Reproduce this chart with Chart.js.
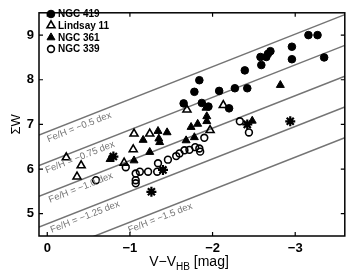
<!DOCTYPE html>
<html>
<head>
<meta charset="utf-8">
<script src="https://cdn.jsdelivr.net/npm/chart.js@4.4.0/dist/chart.umd.min.js"></script>
<style>
  html, body { margin: 0; padding: 0; background: #fff; }
  #wrap { width: 352px; height: 278px; }
</style>
</head>
<body>
<div id="wrap"><canvas id="chart"></canvas></div>
<script>
// axis limits and ticks
const xMin = -3.6, xMax = 0.1;
const yMin = 4.5, yMax = 9.5;
const xTicks = [0, -1, -2, -3];
const yTicks = [5, 6, 7, 8, 9];

// NGC 419 (filled circles)
const ngc419X = [-3.16, -3.27, -2.96, -2.70, -2.67, -2.65, -2.58, -2.96, -3.35, -2.59, -2.39, -1.84, -1.78, -2.08, -2.27, -2.42, -1.65, -1.87, -1.95, -2.20];
const ngc419Y = [9.00, 9.00, 8.74, 8.64, 8.58, 8.51, 8.51, 8.46, 8.50, 8.33, 8.21, 7.99, 7.73, 7.75, 7.81, 7.81, 7.47, 7.48, 7.40, 7.36];

// Lindsay 11 (open triangles)
const lin11X = [-1.69, -2.13, -1.97, -1.05, -1.24, -1.04, -0.93, -0.23, -0.41, -0.36];
const lin11Y = [7.33, 7.43, 6.87, 6.79, 6.79, 6.44, 6.14, 6.26, 6.08, 5.83];

// NGC 361 (filled triangles)
const ngc361X = [-2.82, -1.16, -1.34, -1.45, -1.35, -1.36, -1.24, -0.76, -1.05, -1.92, -1.93, -1.93, -1.82, -1.74, -1.68, -1.78, -2.48];
const ngc361Y = [7.88, 6.65, 6.85, 6.82, 6.68, 6.60, 6.38, 6.22, 6.19, 7.37, 7.18, 7.07, 7.01, 6.94, 6.64, 6.71, 7.08];

// NGC 339 (open circles)
const ngc339X = [-0.59, -0.95, -1.07, -1.12, -1.07, -1.07, -1.22, -1.33, -1.34, -1.46, -1.56, -1.60, -1.66, -1.72, -1.79, -1.84, -1.85, -1.90, -2.33, -2.44];
const ngc339Y = [5.75, 6.04, 5.90, 5.94, 5.75, 5.68, 5.94, 5.94, 6.13, 6.21, 6.29, 6.35, 6.42, 6.43, 6.49, 6.46, 6.39, 6.70, 7.07, 6.82];

// crossed-out stars
const crossX = [-0.80, -1.40, -1.26, -2.42, -2.94];
const crossY = [6.28, 5.98, 5.49, 7.00, 7.07];

// iso-metallicity lines: Sigma W at the left (V-V_HB = 0.1) and right (-3.6) edges
const feHLabels = ['Fe/H = \u22120.5 dex', 'Fe/H = \u22120.75 dex', 'Fe/H = \u22121.0 dex', 'Fe/H = \u22121.25 dex', 'Fe/H = \u22121.5 dex'];
const feHLeftW = [6.76, 6.08, 5.39, 4.70, 4.01];
const feHRightW = [9.46, 8.77, 8.08, 7.39, 6.70];
const labelStartX = [0.03, 0.05, 0.01, -0.01, -0.95];

const legendNames = ['NGC 419', 'Lindsay 11', 'NGC 361', 'NGC 339'];

const FONT = '"Liberation Sans", Arial, Helvetica, sans-serif';
const GRAY = '#747474';

function pts(xs, ys) {
    return xs.map((v, i) => ({ x: v, y: ys[i] }));
}

const markerStyles = [
    { pointStyle: 'circle', radius: 3.8, fill: '#000', borderWidth: 1 },
    { pointStyle: 'triangle', radius: 4.6, fill: 'rgba(0,0,0,0)', borderWidth: 1.6 },
    { pointStyle: 'triangle', radius: 4.6, fill: '#000', borderWidth: 1 },
    { pointStyle: 'circle', radius: 3.4, fill: 'rgba(0,0,0,0)', borderWidth: 1.6 }
];

const seriesX = [ngc419X, lin11X, ngc361X, ngc339X];
const seriesY = [ngc419Y, lin11Y, ngc361Y, ngc339Y];

const datasets = [];
legendNames.forEach((name, i) => {
    const m = markerStyles[i];
    datasets.push({
        type: 'scatter',
        label: name,
        data: pts(seriesX[i], seriesY[i]),
        pointStyle: m.pointStyle,
        pointRadius: m.radius,
        pointBackgroundColor: m.fill,
        pointBorderColor: '#000',
        pointBorderWidth: m.borderWidth,
        order: 1
    });
});
datasets.push({
    type: 'scatter',
    label: 'crossed',
    data: pts(crossX, crossY),
    pointStyle: 'star',
    pointRadius: 5,
    pointBorderColor: '#000',
    pointBorderWidth: 2.2,
    order: 0
});
feHLabels.forEach((name, i) => {
    datasets.push({
        type: 'line',
        label: name,
        data: [{ x: xMax, y: feHLeftW[i] }, { x: xMin, y: feHRightW[i] }],
        borderColor: GRAY,
        borderWidth: 1.5,
        pointRadius: 0,
        fill: false,
        order: 5
    });
});

const decorations = {
    id: 'decorations',
    afterDatasetsDraw(chart) {
        const { ctx, chartArea: a, scales: { x, y } } = chart;
        ctx.save();

        // Fe/H labels under each line
        ctx.fillStyle = GRAY;
        ctx.font = '9.5px ' + FONT;
        feHLabels.forEach((txt, i) => {
            const x0 = x.getPixelForValue(xMax), y0 = y.getPixelForValue(feHLeftW[i]);
            const x1 = x.getPixelForValue(xMin), y1 = y.getPixelForValue(feHRightW[i]);
            const ang = Math.atan2(y1 - y0, x1 - x0);
            const px = x.getPixelForValue(labelStartX[i]);
            const py = y0 + (px - x0) * (y1 - y0) / (x1 - x0);
            ctx.save();
            ctx.beginPath();
            ctx.rect(a.left, a.top, a.right - a.left, a.bottom - a.top);
            ctx.clip();
            ctx.translate(px, py);
            ctx.rotate(ang);
            ctx.textAlign = 'left';
            ctx.textBaseline = 'alphabetic';
            ctx.fillText(txt, 0, 10);
            ctx.restore();
        });

        // frame and inward ticks on all four sides
        ctx.strokeStyle = '#000';
        ctx.lineWidth = 1.5;
        ctx.strokeRect(a.left, a.top, a.right - a.left, a.bottom - a.top);
        ctx.lineWidth = 1.2;
        ctx.beginPath();
        xTicks.forEach(v => {
            const px = x.getPixelForValue(v);
            ctx.moveTo(px, a.bottom); ctx.lineTo(px, a.bottom - 4);
            ctx.moveTo(px, a.top); ctx.lineTo(px, a.top + 4);
        });
        yTicks.forEach(v => {
            const py = y.getPixelForValue(v);
            ctx.moveTo(a.left, py); ctx.lineTo(a.left + 4, py);
            ctx.moveTo(a.right, py); ctx.lineTo(a.right - 4, py);
        });
        ctx.stroke();

        // legend
        ctx.font = 'bold 10px ' + FONT;
        ctx.textAlign = 'left';
        ctx.textBaseline = 'middle';
        const rows = [14, 25.5, 37.5, 49];
        legendNames.forEach((name, i) => {
            const m = markerStyles[i];
            ctx.fillStyle = m.fill;
            ctx.strokeStyle = '#000';
            ctx.lineWidth = m.borderWidth;
            Chart.helpers.drawPoint(ctx, { pointStyle: m.pointStyle, radius: m.radius, borderWidth: m.borderWidth, rotation: 0 }, a.left + 12, rows[i]);
            ctx.fillStyle = '#000';
            ctx.fillText(name, a.left + 19, rows[i] + 0.5);
        });

        // axis titles
        ctx.fillStyle = '#000';
        ctx.save();
        ctx.translate(16, (a.top + a.bottom) / 2);
        ctx.rotate(-Math.PI / 2);
        ctx.textAlign = 'center';
        ctx.textBaseline = 'middle';
        ctx.font = '13px ' + FONT;
        ctx.fillText('\u03A3W', 0, 0);
        ctx.restore();

        const big = '14px ' + FONT, small = '10px ' + FONT;
        const t1 = 'V\u2212V', t2 = 'HB', t3 = ' [mag]';
        ctx.font = big; const w1 = ctx.measureText(t1).width, w3 = ctx.measureText(t3).width;
        ctx.font = small; const w2 = ctx.measureText(t2).width;
        let tx = 189 - (w1 + w2 + w3) / 2;
        const base = 266;
        ctx.textAlign = 'left';
        ctx.textBaseline = 'alphabetic';
        ctx.font = big; ctx.fillText(t1, tx, base); tx += w1;
        ctx.font = small; ctx.fillText(t2, tx, base + 4); tx += w2;
        ctx.font = big; ctx.fillText(t3, tx, base);

        ctx.restore();
    }
};

const minusFmt = v => (v < 0 ? '\u2212' + Math.abs(v) : String(v));

new Chart(document.getElementById('chart').getContext('2d'), {
    data: { datasets: datasets },
    options: {
        responsive: true,
        maintainAspectRatio: false,
        animation: false,
        layout: { padding: { top: 5, right: 6, left: 0, bottom: 0 } },
        plugins: { legend: { display: false }, tooltip: { enabled: false } },
        scales: {
            x: {
                type: 'linear',
                min: xMin,
                max: xMax,
                reverse: true,
                grid: { display: false, drawTicks: false },
                border: { display: false },
                ticks: { color: '#000', font: { family: FONT, size: 13, weight: 'bold' }, padding: 5, callback: minusFmt },
                afterBuildTicks: s => { s.ticks = xTicks.map(v => ({ value: v })); },
                afterFit: s => { s.height = 42; }
            },
            y: {
                type: 'linear',
                min: yMin,
                max: yMax,
                grid: { display: false, drawTicks: false },
                border: { display: false },
                ticks: { color: '#000', font: { family: FONT, size: 13, weight: 'bold' }, padding: 5, callback: minusFmt },
                afterBuildTicks: s => { s.ticks = yTicks.map(v => ({ value: v })); },
                afterFit: s => { s.width = 39; }
            }
        }
    },
    plugins: [decorations]
});
</script>
</body>
</html>
